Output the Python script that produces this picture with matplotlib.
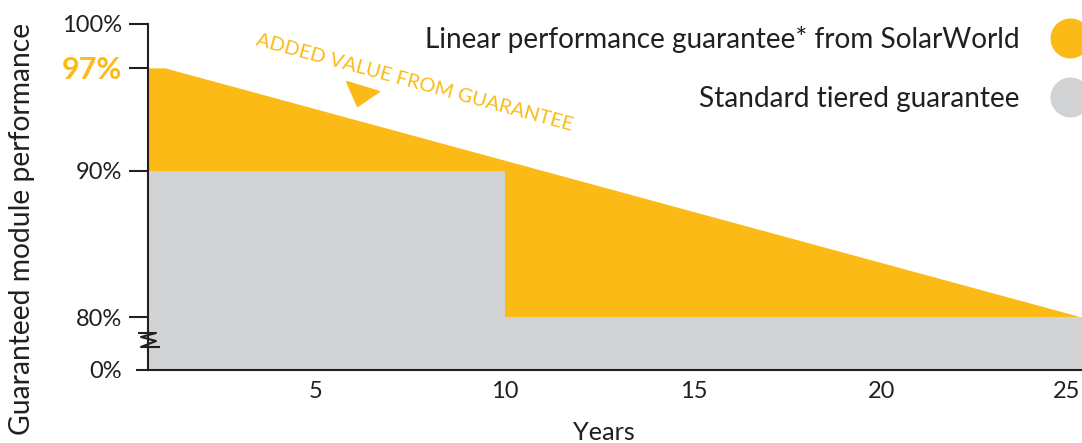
import numpy as np
import matplotlib
matplotlib.use("Agg")
import matplotlib.pyplot as plt
from matplotlib.markers import MarkerStyle
from matplotlib.transforms import Affine2D, ScaledTranslation
from matplotlib.lines import Line2D

plt.rcParams['font.family'] = ['Lato', 'DejaVu Sans']

# ---------------- data ----------------
linear_years = [0.55, 1, 25.3]
linear_values = [97, 97, 80]
tiered_years = [0.55, 10, 10, 25.3]
tiered_values = [90, 90, 80, 80]
x_ticks = [5, 10, 15, 20, 25]
y_ticks = [0, 80, 90, 97, 100]
y_tick_labels = ['0%', '80%', '90%', '97%', '100%']
legend_labels = ['Linear performance guarantee* from SolarWorld', 'Standard tiered guarantee']
annotation = 'ADDED VALUE FROM GUARANTEE'

ORANGE = '#FBBA16'
GRAY = '#D1D3D4'
DARK = '#231F20'

# broken y scale: 0..80 compressed, 80..100 linear
BRK = 53 / 147 * 10


def fwd(v):
    v = np.asarray(v, dtype=float)
    return np.where(v >= 80, v - 80 + BRK, v / 80 * BRK)


def inv(u):
    u = np.asarray(u, dtype=float)
    return np.where(u >= BRK, u - BRK + 80, u / BRK * 80)


W, H = 1082, 443
fig = plt.figure(figsize=(W / 100, H / 100), dpi=100)
ax = fig.add_axes([148 / W, (H - 370) / H, (W - 148) / W, 370 / H])
ax.set_yscale('function', functions=(fwd, inv))
ax.set_xlim(0.55, 25.3)
ax.set_ylim(0, 101.63)

ax.fill_between(linear_years, 0, linear_values, color=ORANGE, lw=0, zorder=1)
ax.fill_between(tiered_years, 0, tiered_values, color=GRAY, lw=0, zorder=2)

for s in ['top', 'right']:
    ax.spines[s].set_visible(False)
ax.spines['left'].set_bounds(0, 100)
for s in ['left', 'bottom']:
    ax.spines[s].set_color(DARK)
    ax.spines[s].set_linewidth(1.5)
    ax.spines[s].set_zorder(5)

ax.set_xticks(x_ticks)
ax.set_xticklabels([str(t) for t in x_ticks])
ax.tick_params(axis='x', length=0, pad=8, labelsize=17, labelcolor=DARK)
last = ax.get_xticklabels()[-1]
last.set_transform(last.get_transform() + ScaledTranslation(-4 / 100, 0, fig.dpi_scale_trans))

ax.set_yticks(y_ticks)
ax.set_yticklabels(y_tick_labels)
ax.yaxis.set_minor_locator(matplotlib.ticker.NullLocator())
ax.tick_params(axis='y', length=19 * 0.72, width=1.5, color=DARK, pad=5,
               labelsize=17, labelcolor=DARK)
ticks = ax.yaxis.get_major_ticks()
ticks[0].tick1line.set_markersize(12 * 0.72)
for lab in ax.get_yticklabels():
    if lab.get_text() == '97%':
        lab.set_color(ORANGE)
        lab.set_fontweight('bold')
        lab.set_fontsize(22)

fig.canvas.draw()
renderer = fig.canvas.get_renderer()


def fit(t, target_px, horizontal=True):
    bb = t.get_window_extent(renderer)
    cur = bb.width if horizontal else bb.height
    t.set_fontsize(t.get_fontsize() * target_px / cur)


# axis labels
yl = ax.text(-0.135, 0.38, 'Guaranteed module performance', transform=ax.transAxes,
             rotation=90, ha='center', va='center', fontsize=20, color=DARK)
fit(yl, 414, horizontal=False)
xl = ax.text(0.488, -0.19, 'Years', transform=ax.transAxes, ha='center', va='baseline',
             fontsize=18, color=DARK)
fit(xl, 62)

# legend (manual)
legend_colors = [ORANGE, GRAY]
legend_y = [0.870, 0.711]
t1 = None
for i, (lab, col, yy) in enumerate(zip(legend_labels, legend_colors, legend_y)):
    t = ax.text(0.9336, yy, lab, transform=ax.transAxes, ha='right', va='baseline',
                fontsize=21, color=DARK)
    if i == 0:
        fit(t, 594)
        t1 = t
    else:
        t.set_fontsize(t1.get_fontsize())
    ax.scatter([0.987], [yy + 0.027], s=830, color=col, transform=ax.transAxes,
               clip_on=False, zorder=6, lw=0)

# annotation rotated along the linear line
p0 = ax.transData.transform((linear_years[1], linear_values[1]))
p1 = ax.transData.transform((linear_years[2], linear_values[2]))
ang = np.degrees(np.arctan2(p1[1] - p0[1], p1[0] - p0[0]))
at = ax.text(7.6, 95.98, annotation, rotation=0, rotation_mode='anchor',
             ha='center', va='center', fontsize=15, color=ORANGE, zorder=6)
fit(at, 328)
at.set_rotation(ang)
tri = MarkerStyle('v', transform=Affine2D().scale(1.0, 0.6).rotate_deg(ang))
ax.plot([6.17], [95.09], marker=tri, markersize=25, color=ORANGE, lw=0,
        zorder=6)

# axis break zigzag on the y spine
bx, by = ax.transData.transform((0.55, 0))
by = by + 30  # 30 px above 0%
zig_dx = [-9, 8, -7, 8, -7, 11]
zig_dy = [7, 7, 3, -1, -7, -7]
zx = [bx + d for d in zig_dx]
zy = [by + d for d in zig_dy]
fig.add_artist(Line2D(zx, zy, transform=None, color=DARK, lw=1.5, zorder=7))

fig.savefig('out.png', dpi=100)
